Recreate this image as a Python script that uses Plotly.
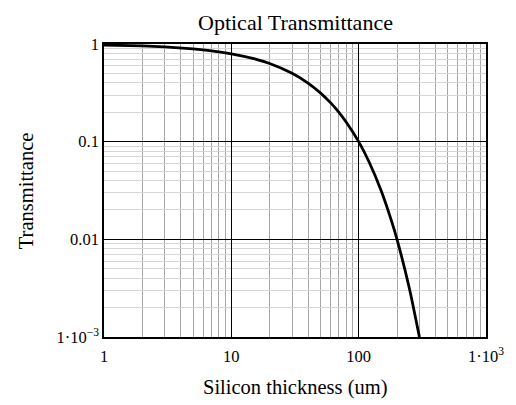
import plotly.graph_objects as go

# Data
thickness_um = [1, 2, 3, 5, 7, 10, 15, 20, 30, 40, 50, 60, 70, 80, 100,
                120, 150, 180, 200, 250, 300]
transmittance = [0.977, 0.955, 0.933, 0.891, 0.851, 0.794, 0.708, 0.631,
                 0.501, 0.398, 0.316, 0.251, 0.2, 0.158, 0.1, 0.063,
                 0.0316, 0.0158, 0.01, 0.00316, 0.001]

x_tickvals = [1, 10, 100, 1000]
x_ticktext = ["1", "10", "100", "1·10<sup>3</sup>"]
y_tickvals = [1, 0.1, 0.01, 0.001]
y_ticktext = ["1", "0.1", "0.01", "1·10<sup>−3</sup>"]
x_minor = [m * d for d in (1, 10, 100) for m in range(2, 10)]
y_minor = [m * d for d in (0.001, 0.01, 0.1) for m in range(2, 10)]

FONT = "Liberation Serif, Times New Roman, serif"
TICKFONT = dict(family=FONT, size=16.5, color="black")

fig = go.Figure()
fig.add_trace(go.Scatter(
    x=thickness_um, y=transmittance, mode="lines",
    line=dict(color="black", width=2.8, shape="spline", smoothing=0.6),
    showlegend=False, hoverinfo="x+y",
))

fig.update_layout(
    width=516, height=405,
    margin=dict(l=104, r=20, t=44, b=68),
    paper_bgcolor="white", plot_bgcolor="white",
    font=dict(family=FONT, size=16, color="black"),
    showlegend=False,
    annotations=[
        dict(text="Optical Transmittance", xref="paper", yref="paper",
             x=0.5, y=1.075, xanchor="center", yanchor="middle",
             showarrow=False, font=dict(size=22, family=FONT)),
        dict(text="Silicon thickness (um)", xref="paper", yref="paper",
             x=0.5, y=-0.172, xanchor="center", yanchor="middle",
             showarrow=False, font=dict(size=20.5, family=FONT)),
        dict(text="Transmittance", xref="paper", yref="paper",
             x=-0.205, y=0.5, xanchor="center", yanchor="middle",
             textangle=-90, showarrow=False, font=dict(size=20.5, family=FONT)),
    ],
)

fig.update_xaxes(
    type="log", range=[0, 3],
    tickmode="array", tickvals=x_tickvals, ticktext=x_ticktext,
    tickfont=TICKFONT,
    ticks="outside", ticklen=3, tickcolor="rgba(0,0,0,0)",
    showgrid=True, gridcolor="black", gridwidth=1,
    minor=dict(tickmode="array", tickvals=x_minor, showgrid=True,
               gridcolor="#a6a6a6", gridwidth=1),
    showline=True, linecolor="black", linewidth=1.5, mirror=True,
    zeroline=False,
)
fig.update_yaxes(
    type="log", range=[-3, 0],
    tickmode="array", tickvals=y_tickvals, ticktext=y_ticktext,
    tickfont=TICKFONT,
    ticks="",
    showgrid=True, gridcolor="black", gridwidth=1,
    minor=dict(tickmode="array", tickvals=y_minor, showgrid=True,
               gridcolor="#d6d6d6", gridwidth=1),
    showline=True, linecolor="black", linewidth=1.5, mirror=True,
    zeroline=False,
)

fig.write_html("out.html")
